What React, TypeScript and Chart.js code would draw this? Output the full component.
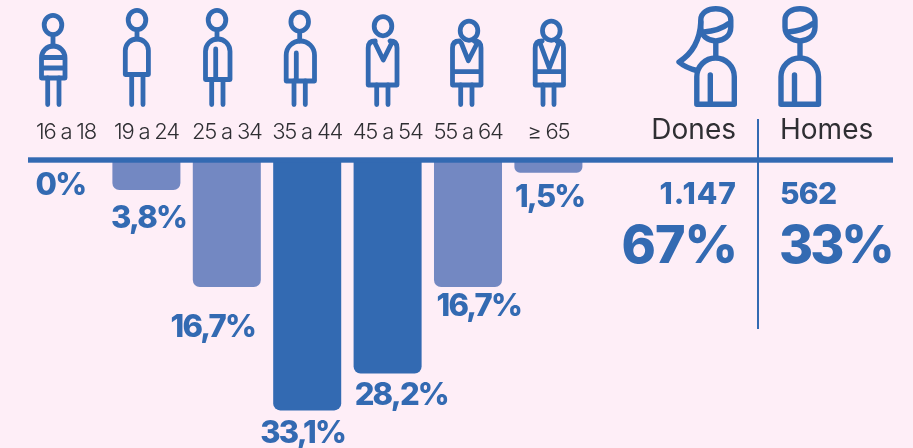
import React, { useEffect, useRef } from "react";
import { Chart, registerables } from "chart.js";

Chart.register(...registerables);

const ageGroups = ["16 a 18", "19 a 24", "25 a 34", "35 a 44", "45 a 54", "55 a 64", "≥ 65"];
const sharePercent = [0, 3.8, 16.7, 33.1, 28.2, 16.7, 1.5];
const genderNames = ["Dones", "Homes"];
const genderCounts = ["1.147", "562"];
const genderShares = ["67%", "33%"];

const BLUE = "#336AB2";
const LIGHT = "#7388C2";
const BG = "#FEEEF7";
const TEXT = "#2F2F33";
const barColors = [LIGHT, LIGHT, LIGHT, BLUE, BLUE, LIGHT, LIGHT];
const labelOffsets = [
  [-5.5, 33.6],
  [2.2, 38],
  [-14, 50],
  [-4.5, 32.7],
  [13.7, 31.5],
  [10.8, 29],
  [1.3, 34.6],
];
const BOLD = "Inter";

function put(
  ctx: CanvasRenderingContext2D,
  s: string,
  x: number,
  y: number,
  font: string,
  align: CanvasTextAlign,
  color: string,
  spacing = 0
) {
  ctx.save();
  ctx.font = font;
  ctx.textAlign = align;
  ctx.textBaseline = "alphabetic";
  ctx.fillStyle = color;
  (ctx as any).letterSpacing = spacing + "px";
  ctx.fillText(s, x, y);
  ctx.restore();
}

type Fig = {
  hx: number; hy: number; rx?: number; ry?: number; neck?: boolean;
  l: number; r: number; top: number; b: number;
  legs: [number, number]; inner?: [number, number];
  stripes?: number[]; vee?: [number, number, number, number]; band?: number;
};

const figures: Fig[] = [
  { hx: 53, hy: 25, neck: true, l: 41.5, r: 65, top: 46, b: 78, legs: [47.7, 59], stripes: [57.5, 68] },
  { hx: 137, hy: 20, neck: true, l: 125.3, r: 148.4, top: 39, b: 74.5, legs: [131.7, 143] },
  { hx: 217, hy: 20, neck: true, l: 205.5, r: 230, top: 39, b: 79.5, legs: [211.7, 223], inner: [215.7, 49] },
  { hx: 299.7, hy: 21.7, neck: true, l: 286.2, r: 314.5, top: 41, b: 81, legs: [294, 305.3], inner: [296.3, 53] },
  { hx: 383, hy: 26.2, l: 368.2, r: 397, top: 41, b: 85, legs: [376.7, 388], vee: [375, 383.3, 391.7, 60] },
  { hx: 469, hy: 30.7, l: 452.5, r: 481, top: 41, b: 85, legs: [460.7, 472], vee: [461.3, 468.3, 477.3, 60.7], band: 71.7 },
  { hx: 551.3, hy: 30.7, l: 535.2, r: 563.5, top: 41, b: 85, legs: [543, 554], vee: [540, 549.3, 559, 68], band: 71.7 },
];

function drawFigure(ctx: CanvasRenderingContext2D, f: Fig) {
  ctx.beginPath();
  ctx.ellipse(f.hx, f.hy, f.rx ?? 8.8, f.ry ?? 9.6, 0, 0, Math.PI * 2);
  ctx.stroke();
  ctx.beginPath();
  for (const x of f.legs) {
    ctx.moveTo(x, f.b);
    ctx.lineTo(x, 104.5);
  }
  ctx.stroke();
  ctx.beginPath();
  if (f.neck) {
    ctx.moveTo(f.hx, f.hy + 10);
    ctx.lineTo(f.hx, f.top);
  }
  ctx.stroke();
  ctx.beginPath();
  if (f.vee) {
    const q = 7;
    ctx.moveTo(f.l, f.b);
    ctx.lineTo(f.l, f.top + q);
    ctx.quadraticCurveTo(f.l, f.top, f.l + q, f.top);
    ctx.lineTo(f.vee[0], f.top + 2);
    ctx.lineTo(f.vee[1], f.vee[3]);
    ctx.lineTo(f.vee[2], f.top + 2);
    ctx.lineTo(f.r - q, f.top);
    ctx.quadraticCurveTo(f.r, f.top, f.r, f.top + q);
    ctx.lineTo(f.r, f.b);
    ctx.closePath();
  } else {
    const rad = (f.r - f.l) / 2;
    ctx.moveTo(f.l, f.b);
    ctx.lineTo(f.l, f.top + rad);
    ctx.arc(f.l + rad, f.top + rad, rad, Math.PI, 0);
    ctx.lineTo(f.r, f.b);
    ctx.closePath();
  }
  if (f.inner) {
    ctx.moveTo(f.inner[0], f.inner[1]);
    ctx.lineTo(f.inner[0], f.b);
  }
  if (f.band) {
    ctx.moveTo(f.l, f.band);
    ctx.lineTo(f.r, f.band);
  }
  for (const y of f.stripes ?? []) {
    ctx.moveTo(f.l, y);
    ctx.lineTo(f.r, y);
  }
  ctx.stroke();
}

function drawAdult(ctx: CanvasRenderingContext2D, cx: number, hair: boolean) {
  ctx.lineWidth = 5.4;
  const hl = cx - 15;
  const hr = cx + 15;
  ctx.beginPath();
  ctx.moveTo(hl, 20);
  ctx.bezierCurveTo(hl, 5, hr, 5, hr, 20);
  ctx.lineTo(hr, 27);
  ctx.bezierCurveTo(hr, 45.5, hl, 45.5, hl, 27);
  ctx.closePath();
  ctx.stroke();
  ctx.beginPath();
  ctx.moveTo(cx - 12, 32);
  ctx.quadraticCurveTo(cx + 3, 31, cx + 13, 23.5);
  ctx.stroke();
  ctx.beginPath();
  ctx.moveTo(cx, 43);
  ctx.lineTo(cx, 57);
  ctx.stroke();
  const l = cx - 19;
  const r = cx + 18.5;
  const rad = (r - l) / 2;
  ctx.beginPath();
  ctx.moveTo(l, 104.2);
  ctx.lineTo(l, 58 + rad);
  ctx.arc(l + rad, 58 + rad, rad, Math.PI, 0);
  ctx.lineTo(r, 104.2);
  ctx.closePath();
  ctx.moveTo(cx - 5.5, 75);
  ctx.lineTo(cx - 5.5, 104);
  ctx.stroke();
  if (hair) {
    ctx.beginPath();
    ctx.moveTo(hl, 22);
    ctx.bezierCurveTo(hl - 1, 42, 690, 55, 679, 62);
    ctx.quadraticCurveTo(686, 68, l, 70.5);
    ctx.stroke();
  }
}

const overlay = {
  id: "overlay",
  beforeDraw(chart: any) {
    const { ctx, width, height } = chart;
    ctx.save();
    ctx.fillStyle = BG;
    ctx.fillRect(0, 0, width, height);
    ctx.restore();
    (ctx as any).letterSpacing = "-1.2px";
  },
  afterDatasetsDraw(chart: any) {
    const { ctx } = chart;
    (ctx as any).letterSpacing = "0px";
    ctx.save();
    ctx.fillStyle = BLUE;
    ctx.fillRect(28, 157.3, 865, 5.4);
    ctx.fillRect(757, 119, 2, 210);

    ctx.strokeStyle = BLUE;
    ctx.lineCap = "round";
    ctx.lineJoin = "round";
    ctx.lineWidth = 4.8;
    figures.forEach((f) => drawFigure(ctx, f));
    drawAdult(ctx, 715.8, true);
    drawAdult(ctx, 800, false);

    const boldFont = (n: number) => `800 ${n}px ${BOLD}`;
    const meta = chart.getDatasetMeta(0);
    sharePercent.forEach((v, i) => {
      const bar = meta.data[i];
      const txt = String(v).replace(".", ",") + "%";
      put(ctx, txt, bar.x + labelOffsets[i][0], bar.y + labelOffsets[i][1], boldFont(31), "center", BLUE, -1.8);
    });

    const regular = `400 28px ${BOLD}`;
    put(ctx, genderNames[0], 736, 139, regular, "right", TEXT);
    put(ctx, genderNames[1], 780, 139, regular, "left", TEXT);
    put(ctx, genderCounts[0], 737, 204, boldFont(30), "right", BLUE, 1);
    put(ctx, genderCounts[1], 780, 204, boldFont(30), "left", BLUE, -0.7);
    put(ctx, genderShares[0], 737, 263, boldFont(52), "right", BLUE, -1);
    put(ctx, genderShares[1], 779, 263, boldFont(52), "left", BLUE, -3);
    ctx.restore();
  },
};

export default function App() {
  const ref = useRef<HTMLCanvasElement>(null);
  useEffect(() => {
    document.body.style.margin = "0";
    document.body.style.background = BG;
    const chart = new Chart(ref.current!, {
      type: "bar",
      data: {
        labels: ageGroups,
        datasets: [
          {
            data: sharePercent,
            backgroundColor: barColors,
            borderRadius: 7,
            borderSkipped: "start",
            barPercentage: 0.846,
            categoryPercentage: 1,
          },
        ],
      },
      options: {
        responsive: false,
        animation: false,
        layout: { padding: { top: 103, left: 25.8, right: 324.4, bottom: 0 } },
        plugins: { legend: { display: false }, tooltip: { enabled: false } },
        scales: {
          x: {
            position: "top",
            grid: { display: false, drawTicks: false },
            border: { display: false },
            ticks: {
              padding: 16,
              maxRotation: 0,
              autoSkip: false,
              color: TEXT,
              font: { family: "Inter", size: 22, weight: 300, lineHeight: 1.2 },
            },
          },
          y: { display: false, reverse: true, min: 0, max: 38.1 },
        },
      },
      plugins: [overlay],
    } as any);
    return () => chart.destroy();
  }, []);
  return (
    <canvas
      ref={ref}
      width={913}
      height={448}
      style={{ display: "block", width: 913, height: 448 }}
    />
  );
}
